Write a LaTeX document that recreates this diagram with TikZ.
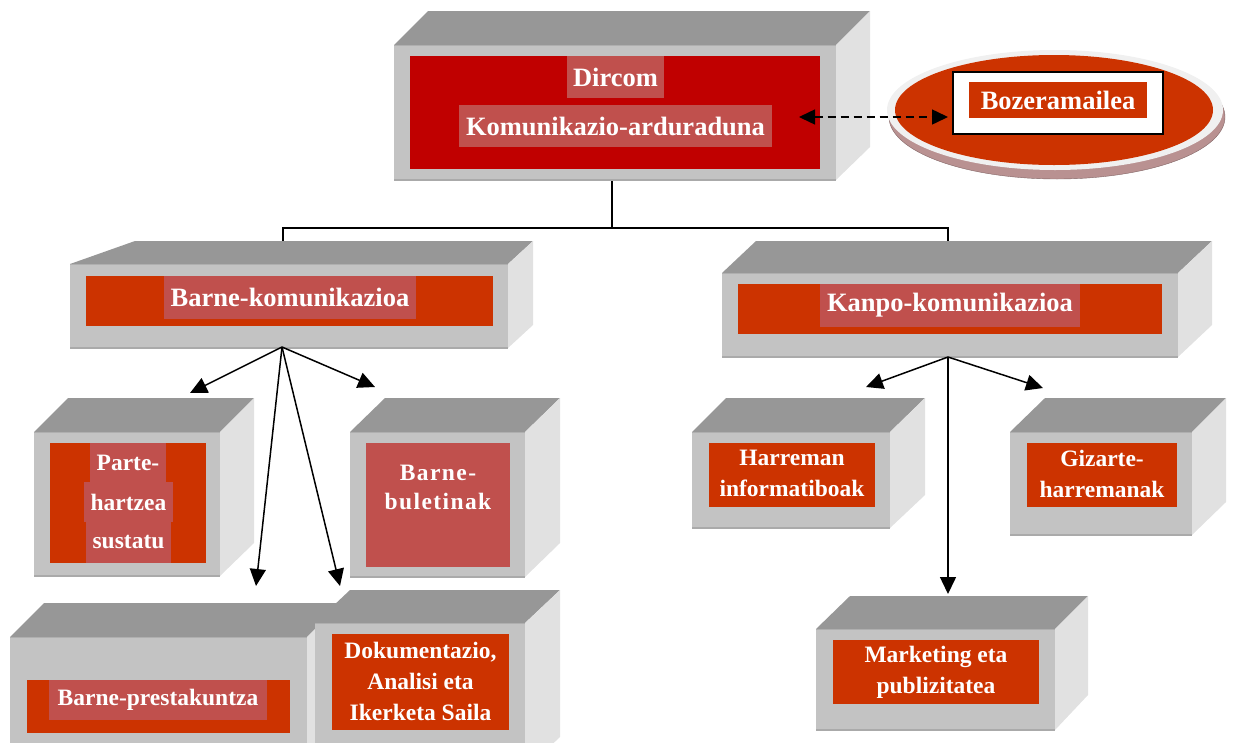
\documentclass[tikz,border=0pt]{standalone}
\usepackage{fontspec}
\setmainfont{Liberation Serif}
\usetikzlibrary{arrows.meta}
\definecolor{topc}{RGB}{151,151,151}
\definecolor{frontc}{RGB}{195,195,195}
\definecolor{sidec}{RGB}{225,225,225}
\definecolor{edgec}{RGB}{170,170,170}
\definecolor{redA}{RGB}{192,0,0}
\definecolor{redB}{RGB}{204,51,0}
\definecolor{hlc}{RGB}{192,80,77}
\definecolor{ringc}{RGB}{240,240,240}
\definecolor{shadc}{RGB}{185,145,145}
% #1 front-left x, #2 front-top y, #3 front-right x, #4 front-bottom y,
% #5 back-left x, #6 back-right x, #7 back y, #8 side-bottom y
\newcommand\tdbox[8]{%
  \fill[topc] (#1,#2) -- (#5,#7) -- (#6,#7) -- (#3,#2) -- cycle;
  \fill[sidec] (#3,#2) -- (#6,#7) -- (#6,#8) -- (#3,#4) -- cycle;
  \fill[frontc] (#1,#2) rectangle (#3,#4);
  \draw[edgec, line width=1.2pt] (#1,#4) -- (#3,#4);
  \draw[edgec!80!frontc, line width=0.8pt] (#1,#2) -- (#3,#2);
}
\tikzset{
  plain/.style={rectangle, draw=none, inner sep=0pt},
  redbox/.style={plain, fill=redB},
  hlbox/.style={plain, fill=hlc},
  big/.style={font=\fontsize{26.5}{30}\selectfont\bfseries, text=white},
  small/.style={font=\fontsize{23.5}{31}\selectfont\bfseries, text=white, align=center},
  conn/.style={line width=1.5pt, black},
  arr/.style={conn, -{Triangle[length=17pt,width=16pt]}},
  darr/.style={line width=1.5pt, dash pattern=on 8pt off 5pt, {Triangle[length=16pt,width=15pt]}-{Triangle[length=16pt,width=15pt]}},
}
\begin{document}
\begin{tikzpicture}[x=1pt,y=-1pt]
\useasboundingbox (0,0) rectangle (1236,742);
\clip (0,0) rectangle (1236,742);

% tree connectors
\coordinate (topbot) at (612,180);
\coordinate (junc) at (612,228);
\coordinate (barnetop) at (283,242);
\coordinate (kanpotop) at (948,242);
\draw[conn] (topbot) -- (junc);
\draw[conn] (barnetop) |- (junc) -| (kanpotop);

% top box
\tdbox{394}{45}{836}{180}{428}{870}{11}{147}
\node[plain, fill=redA, minimum width=410pt, minimum height=113pt] (topred) at (615,112.5) {};
\node[hlbox, minimum width=97pt, minimum height=42pt, big] (dircom) at (615.5,77) {Dircom};
\node[hlbox, minimum width=313pt, minimum height=42pt, big] (komun) at (615.5,126) {Komunikazio-arduraduna};

% ellipse
\fill[shadc] (1057,117) ellipse [x radius=168pt, y radius=62pt];
\draw[shadc!70!black, line width=0.4pt] (1057,117) ellipse [x radius=168pt, y radius=62pt];
\fill[ringc] (1055,110) ellipse [x radius=168pt, y radius=60pt];
\fill[redB] (1054,110) ellipse [x radius=159pt, y radius=55pt];
\node[plain, fill=white, draw=black, line width=1.5pt, minimum width=210pt, minimum height=62pt] (bozw) at (1058,103) {};
\node[redbox, minimum width=178pt, minimum height=36pt, big] (boz) at (1058,100) {Bozeramailea};

\coordinate (dl) at (799,117);
\coordinate (dr) at (948,117);
\draw[darr] (dl) -- (dr);

% Barne-komunikazioa
\tdbox{70}{264}{508}{348}{135}{533}{241}{325}
\node[redbox, minimum width=407pt, minimum height=50pt] (barnered) at (289.5,301) {};
\node[hlbox, minimum width=252pt, minimum height=43pt, big] (barne) at (290,297.5) {Barne-komunikazioa};

% Kanpo-komunikazioa
\tdbox{722}{273}{1178}{357}{756}{1212}{241}{325}
\node[redbox, minimum width=424pt, minimum height=50pt] (kanpored) at (950,309) {};
\node[hlbox, minimum width=260pt, minimum height=43pt, big] (kanpo) at (950,305.5) {Kanpo-komunikazioa};

% Parte-hartzea sustatu
\tdbox{34}{432}{220}{576}{68}{254}{398}{543}
\node[redbox, minimum width=156pt, minimum height=120pt] (partered) at (128,503) {};
\node[hlbox, minimum width=76pt, minimum height=39pt, small] (parte1) at (128,462.5) {Parte-};
\node[hlbox, minimum width=89pt, minimum height=40pt, small] (parte2) at (128.5,502) {hartzea};
\node[hlbox, minimum width=85pt, minimum height=41pt, small] (parte3) at (128.5,542.5) {sustatu};

% Barne-buletinak
\tdbox{350}{432}{525}{577}{385}{560}{398}{543}
\node[hlbox, minimum width=144pt, minimum height=124pt] (buletred) at (438,505) {};
\node[small, font=\fontsize{23.5}{29}\selectfont\bfseries\addfontfeature{LetterSpace=6}] (bulet) at (438,487.5) {Barne-\\buletinak};

% Barne-prestakuntza
\tdbox{10}{637}{307}{770}{44}{341}{603}{770}
\node[redbox, minimum width=263pt, minimum height=53pt] (prestred) at (158.5,706.5) {};
\node[hlbox, minimum width=218pt, minimum height=40pt, small] (prest) at (158,700) {Barne-prestakuntza};

% Dokumentazio
\tdbox{315}{623}{525}{770}{350}{560}{590}{737}
\node[redbox, minimum width=177pt, minimum height=96pt] (dokred) at (420.5,682) {};
\node[small] (dok) at (420.5,681) {Dokumentazio,\\Analisi eta\\Ikerketa Saila};

% Harreman informatiboak
\tdbox{692}{432}{890}{528}{726}{925}{398}{495}
\node[redbox, minimum width=166pt, minimum height=64pt] (harred) at (792,475) {};
\node[small] (harr) at (792,473.5) {Harreman\\informatiboak};

% Gizarte-harremanak
\tdbox{1010}{432}{1192}{535}{1045}{1226}{398}{502}
\node[redbox, minimum width=150pt, minimum height=64pt] (gizred) at (1102,475) {};
\node[small] (giz) at (1102,473.5) {Gizarte-\\harremanak};

% Marketing eta publizitatea
\tdbox{816}{629}{1055}{730}{850}{1088}{596}{695}
\node[redbox, minimum width=206pt, minimum height=64pt] (markred) at (936,672) {};
\node[small] (mark) at (936,672.5) {Marketing eta\\publizitatea};

% arrows from Barne-komunikazioa
\coordinate (bsrc) at (282,347);
\coordinate (ba1) at (190,393);
\coordinate (ba2) at (375,387);
\coordinate (ba3) at (256,586);
\coordinate (ba4) at (340,586);
\draw[arr] (bsrc) -- (ba1);
\draw[arr] (bsrc) -- (ba2);
\draw[arr] (bsrc) -- (ba3);
\draw[arr] (bsrc) -- (ba4);

% arrows from Kanpo-komunikazioa
\coordinate (ksrc) at (948,357);
\coordinate (ka1) at (866,387);
\coordinate (ka2) at (1043,388);
\coordinate (ka3) at (948,594);
\draw[arr] (ksrc) -- (ka1);
\draw[arr] (ksrc) -- (ka2);
\draw[arr] (ksrc) -- (ka3);
\end{tikzpicture}
\end{document}
